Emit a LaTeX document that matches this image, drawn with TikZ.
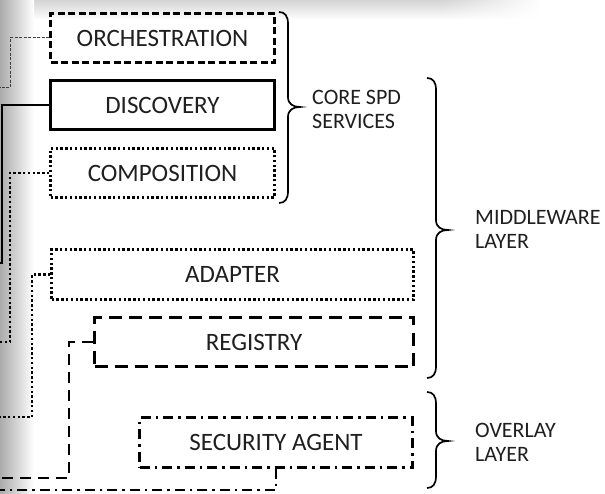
\documentclass[tikz,border=0pt]{standalone}
\usepackage{fontspec}
\setmainfont{Carlito}
\usetikzlibrary{fadings}
\newcommand\curlybrace[4]{%
  \draw[bracestyle] (#1,#2) .. controls (#1+6,#2) and (#1+9,#2+4) .. (#1+9,#2+12)
    -- (#1+9,#4-10) .. controls (#1+9,#4-3) and (#1+14,#4) .. (#1+21,#4)
    .. controls (#1+14,#4) and (#1+9,#4+3) .. (#1+9,#4+10)
    -- (#1+9,#3-12) .. controls (#1+9,#3-4) and (#1+6,#3) .. (#1,#3);}
\begin{document}
\begin{tikzpicture}[x=1pt,y=-1pt,
  box/.style={draw=black, line width=2.4pt, inner sep=0pt, font=\fontsize{25}{28}\selectfont, text=black!88},
  lbl/.style={anchor=west, align=left, inner sep=0pt, font=\fontsize{22}{24}\selectfont, text=black!88},
  bracestyle/.style={line width=1.7pt, black},
  dashbox/.style={dash pattern=on 7pt off 3.5pt},
  dotbox/.style={dash pattern=on 2.4pt off 2.4pt},
  lgdashbox/.style={dash pattern=on 13pt off 7pt},
  dashdotbox/.style={dash pattern=on 10pt off 5pt on 2.5pt off 5pt},
  corch/.style={line width=1pt, draw=black!75, dash pattern=on 3pt off 1.5pt},
  cdisc/.style={line width=1.3pt, draw=black},
  cdot/.style={line width=2.4pt, draw=black, dash pattern=on 2.4pt off 2.4pt},
  cdash/.style={line width=2.4pt, draw=black, dash pattern=on 11pt off 7pt},
  cdashdot/.style={line width=2.4pt, draw=black, dash pattern=on 10pt off 5pt on 2.5pt off 5pt}]
\useasboundingbox (0,0) rectangle (605,494);
\clip (0,0) rectangle (605,494);
\fill[white] (0,0) rectangle (605,494);
% shadows
\shade[top color=black!17, bottom color=white] (0,0) rectangle (440,20);
\shade[top color=black!17, bottom color=white, path fading=east] (440,0) rectangle (540,20);
\shade[left color=black!33, middle color=black!10, right color=white] (0,0) rectangle (34,494);
% boxes
\node[box, dashbox, minimum width=224pt, minimum height=49pt] (orch) at (162.5,38) {ORCHESTRATION};
\node[box, minimum width=224pt, minimum height=49pt] (disc) at (162.5,105) {DISCOVERY};
\node[box, dotbox, minimum width=224pt, minimum height=49pt] (comp) at (162.5,173) {COMPOSITION};
\node[box, dotbox, minimum width=362pt, minimum height=50pt] (adap) at (232.5,274.5) {ADAPTER};
\node[box, lgdashbox, minimum width=319pt, minimum height=49pt] (reg) at (254,342) {REGISTRY};
\node[box, dashdotbox, minimum width=273pt, minimum height=50pt] (sec) at (276,442.5) {SECURITY AGENT};
% free ends
\coordinate (oend) at (0,88);
\coordinate (dend) at (0,263);
\coordinate (cend) at (0,342);
\coordinate (aend) at (0,417);
\coordinate (rend) at (0,478);
\coordinate (send) at (0,490);
% connectors
\draw[corch] (orch.west) -| ([xshift=10pt]oend) -- (oend);
\draw[cdisc] (disc.west) -| ([xshift=2pt]dend) -- (dend);
\draw[cdot] (comp.west) -| ([xshift=10pt]cend) -- (cend);
\draw[cdot] (adap.west) -| ([xshift=32pt]aend) -- (aend);
\draw[cdash] (reg.west) -| ([xshift=69pt]rend) -- (rend);
\draw[cdashdot] (sec.south) |- (send);
% braces
\curlybrace{279}{12}{203}{107}
\curlybrace{427}{78}{378}{230}
\curlybrace{427}{392}{488}{441}
% labels
\node[lbl] (core) at (312,109) {CORE SPD\\SERVICES};
\node[lbl] (mid) at (475,229) {MIDDLEWARE\\LAYER};
\node[lbl] (ovl) at (475,442) {OVERLAY\\LAYER};
\end{tikzpicture}
\end{document}
